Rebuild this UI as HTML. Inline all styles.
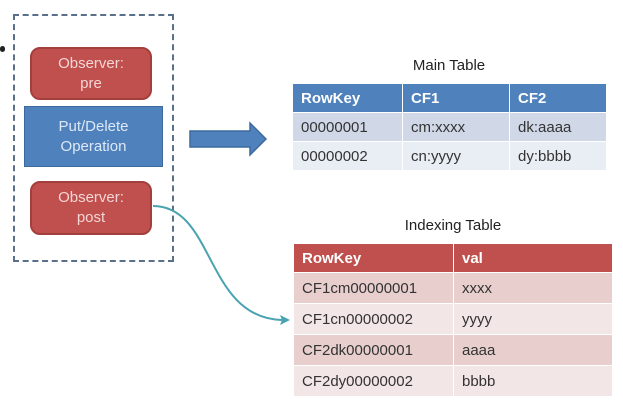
<!DOCTYPE html>
<html><head><style>
body{margin:0;width:623px;height:401px;background:#fff;position:relative;overflow:hidden;font-family:"Liberation Sans",sans-serif;}
.a{position:absolute;box-sizing:border-box;}
.box{color:#f3d6d5;font-size:15px;text-align:center;line-height:20px;display:flex;align-items:center;justify-content:center;}
table{position:absolute;border-collapse:collapse;font-size:15px;}
td{padding:0 0 0 8px;border:1px solid #fff;color:#333;}
</style></head><body>
<div class="a" style="left:0;top:46px;width:5px;height:6px;background:#222;border-radius:3px"></div>
<div class="a" style="left:13px;top:14px;width:161px;height:248px;border:2px dashed #5a6f89"></div>
<div class="a box" style="left:30px;top:47px;width:122px;height:53px;background:#c0504d;border:2px solid #a33f3c;border-radius:10px">Observer:<br>pre</div>
<div class="a box" style="left:24px;top:106px;width:139px;height:61px;background:#4f81bd;border:1px solid #3c6a9e;color:#dde8f5">Put/Delete<br>Operation</div>
<div class="a box" style="left:30px;top:181px;width:122px;height:54px;background:#c0504d;border:2px solid #a33f3c;border-radius:10px">Observer:<br>post</div>
<svg class="a" style="left:0;top:0" width="623" height="401">
<polygon points="190,131 250,131 250,123 266,139 250,155 250,147 190,147" fill="#4f81bd" stroke="#3c6a9e" stroke-width="1.5"/>
<path d="M153 206 C 215 206, 205 318, 282 320" fill="none" stroke="#4aa3b0" stroke-width="2"/>
<polygon points="290,320 280,315 282,320 280,325" fill="#4aa3b0"/>
</svg>
<div class="a" style="left:292px;top:57px;width:314px;text-align:center;font-size:15px;color:#222">Main Table</div>
<table style="left:292px;top:83px;width:315px">
<tr style="height:29px;background:#4f81bd;color:#fff;font-weight:bold"><td style="width:101px;color:#fff">RowKey</td><td style="width:98px;color:#fff">CF1</td><td style="color:#fff">CF2</td></tr>
<tr style="height:29px;background:#d0d8e8"><td>00000001</td><td>cm:xxxx</td><td>dk:aaaa</td></tr>
<tr style="height:29px;background:#e9edf4"><td>00000002</td><td>cn:yyyy</td><td>dy:bbbb</td></tr>
</table>
<div class="a" style="left:293px;top:217px;width:320px;text-align:center;font-size:15px;color:#222">Indexing Table</div>
<table style="left:293px;top:243px;width:320px">
<tr style="height:29px;background:#c0504d;font-weight:bold"><td style="width:151px;color:#fff">RowKey</td><td style="color:#fff">val</td></tr>
<tr style="height:31px;background:#e8cfce"><td>CF1cm00000001</td><td>xxxx</td></tr>
<tr style="height:31px;background:#f3e6e6"><td>CF1cn00000002</td><td>yyyy</td></tr>
<tr style="height:31px;background:#e8cfce"><td>CF2dk00000001</td><td>aaaa</td></tr>
<tr style="height:31px;background:#f3e6e6"><td>CF2dy00000002</td><td>bbbb</td></tr>
</table>
</body></html>
